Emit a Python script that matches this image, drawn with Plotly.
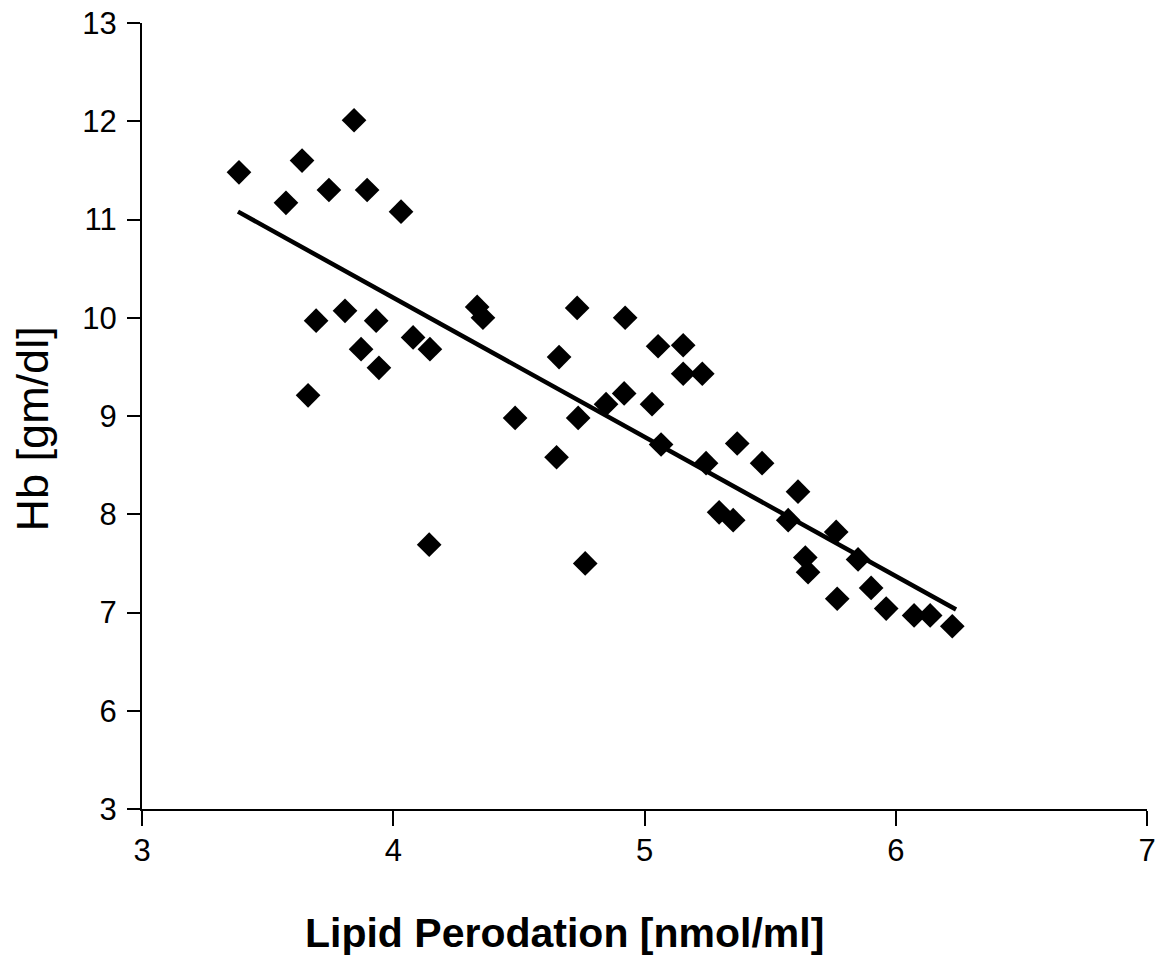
import plotly.graph_objects as go

# Lipid peroxidation (x) vs haemoglobin (y)
lipid = [3.386, 3.573, 3.637, 3.744, 3.844, 3.896, 4.031, 3.661, 3.693, 3.808,
         3.932, 3.872, 3.943, 4.079, 4.146, 4.143, 4.334, 4.357, 4.485, 4.660,
         4.650, 4.732, 4.736, 4.764, 4.847, 4.919, 4.923, 5.054, 5.154, 5.154,
         5.230, 5.030, 5.066, 5.245, 5.369, 5.468, 5.297, 5.353, 5.611, 5.572,
         5.763, 5.640, 5.651, 5.850, 5.767, 5.902, 5.962, 6.073, 6.137, 6.225]
hb = [11.48, 11.17, 11.60, 11.30, 12.01, 11.30, 11.08, 9.21, 9.97, 10.07,
      9.97, 9.68, 9.49, 9.80, 9.68, 7.69, 10.11, 10.00, 8.98, 9.60,
      8.58, 10.10, 8.98, 7.50, 9.12, 9.23, 10.00, 9.71, 9.72, 9.43,
      9.43, 9.12, 8.71, 8.52, 8.72, 8.52, 8.02, 7.94, 8.23, 7.94,
      7.82, 7.56, 7.41, 7.54, 7.14, 7.25, 7.04, 6.97, 6.97, 6.86]

# Trend line end points
trend_x = [3.382, 6.24]
trend_y = [11.08, 7.03]

# X axis ticks
x_ticks = [3, 4, 5, 6, 7]
# Y axis is broken: the "3" label sits one unit below 6
y_tickvals = [5, 6, 7, 8, 9, 10, 11, 12, 13]
y_ticktext = ["3", "6", "7", "8", "9", "10", "11", "12", "13"]

fig = go.Figure()
fig.add_trace(go.Scatter(
    x=trend_x, y=trend_y, mode="lines",
    line=dict(color="black", width=4.5), showlegend=False, hoverinfo="skip"))
fig.add_trace(go.Scatter(
    x=lipid, y=hb, mode="markers",
    marker=dict(symbol="diamond", size=19, color="black", line=dict(width=0)),
    showlegend=False))

fig.update_layout(
    width=1163, height=960,
    margin=dict(l=142, r=16, t=23, b=151, autoexpand=False),
    paper_bgcolor="white", plot_bgcolor="white",
    font=dict(family="Liberation Sans, Arial, sans-serif", color="black"),
)
fig.update_xaxes(
    range=[3, 7], tickvals=x_ticks, ticktext=[str(v) for v in x_ticks],
    showgrid=False, zeroline=False, showline=True, linecolor="black", linewidth=2,
    ticks="outside", ticklen=15, tickwidth=2, tickcolor="black",
    tickfont=dict(size=31), ticklabelstandoff=-2, automargin=False,
    ticklabeloverflow="allow")
fig.update_yaxes(
    range=[5, 13], tickvals=y_tickvals, ticktext=y_ticktext,
    showgrid=False, zeroline=False, showline=True, linecolor="black", linewidth=2,
    ticks="outside", ticklen=13, tickwidth=2, tickcolor="black",
    tickfont=dict(size=31), ticklabelstandoff=4, automargin=False,
    ticklabeloverflow="allow")

fig.add_annotation(
    text="<b>Lipid Perodation [nmol/ml]</b>", xref="paper", yref="paper",
    x=0.42, y=-0.158, xanchor="center", yanchor="middle", showarrow=False,
    font=dict(size=41, family="Liberation Sans, Arial, sans-serif"))
fig.add_annotation(
    text="Hb [gm/dl]", xref="paper", yref="paper", textangle=-90,
    x=-0.108, y=0.4835, xanchor="center", yanchor="middle", showarrow=False,
    font=dict(size=45, family="Liberation Sans, Arial, sans-serif"))

fig.write_html("out.html",
               config={"displayModeBar": False, "staticPlot": True},
               post_script="document.body.style.margin='0px';"
                           "document.body.style.overflow='hidden';")
